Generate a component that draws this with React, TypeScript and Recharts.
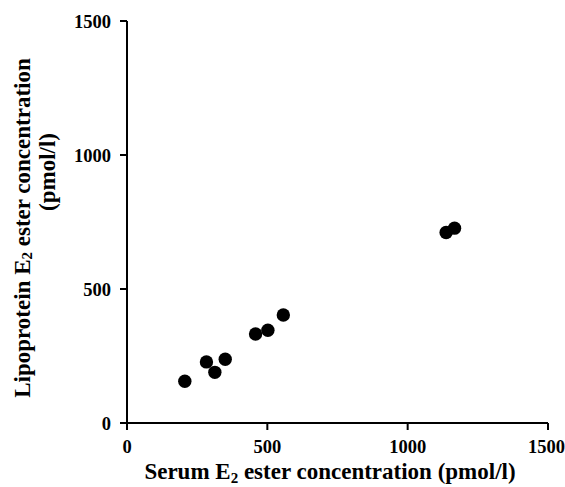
import React from 'react';
import { ScatterChart, Scatter, XAxis, YAxis } from 'recharts';

const serumE2Ester = [206, 283, 313, 350, 458, 502, 557, 1137, 1167];
const lipoproteinE2Ester = [156, 228, 189, 238, 332, 346, 403, 711, 727];
const xTicks = [0, 500, 1000, 1500];
const yTicks = [0, 500, 1000, 1500];

const data = serumE2Ester.map((x, i) => ({ x, y: lipoproteinE2Ester[i] }));

const FONT = '"Liberation Serif", "Times New Roman", serif';
const tickStyle = { fill: '#000', fontSize: 18.5, fontWeight: 'bold', fontFamily: FONT };

const Dot = (props: any) => <circle cx={props.cx} cy={props.cy} r={6.7} fill="#000" />;

const XTitle = () => (
  <text x={330} y={479} textAnchor="middle" fontFamily={FONT} fontWeight="bold" fontSize={23} fill="#000">
    <tspan>Serum E</tspan>
    <tspan fontSize={15} dy={4}>2</tspan>
    <tspan dy={-4}> ester concentration (pmol/l)</tspan>
  </text>
);

const YTitle = () => (
  <g fontFamily={FONT} fontWeight="bold" fontSize={23} fill="#000">
    <text x={22} y={228} textAnchor="middle" dominantBaseline="central" transform="rotate(-90 22 228)">
      <tspan>Lipoprotein E</tspan>
      <tspan fontSize={15} dy={5}>2</tspan>
      <tspan dy={-5}> ester concentration</tspan>
    </text>
    <text x={47} y={172} textAnchor="middle" dominantBaseline="central" transform="rotate(-90 47 172)">
      (pmol/l)
    </text>
  </g>
);

export default function App() {
  return (
    <div style={{ position: 'absolute', left: 0, top: 0, background: '#fff' }}>
      <ScatterChart width={565} height={487} margin={{ top: 21, right: 17, bottom: 0, left: 0 }}>
        <XAxis
          type="number"
          dataKey="x"
          domain={[0, 1500]}
          ticks={xTicks}
          height={64}
          tick={tickStyle}
          tickSize={7}
          tickMargin={10}
          axisLine={{ stroke: '#000', strokeWidth: 2 }}
          tickLine={{ stroke: '#000', strokeWidth: 2 }}
          label={{ content: () => <XTitle /> }}
        />
        <YAxis
          type="number"
          dataKey="y"
          domain={[0, 1500]}
          ticks={yTicks}
          width={127}
          tick={tickStyle}
          tickSize={7}
          tickMargin={9}
          axisLine={{ stroke: '#000', strokeWidth: 2 }}
          tickLine={{ stroke: '#000', strokeWidth: 2 }}
          label={{ content: () => <YTitle /> }}
        />
        <Scatter data={data} fill="#000" shape={Dot} isAnimationActive={false} />
      </ScatterChart>
    </div>
  );
}
